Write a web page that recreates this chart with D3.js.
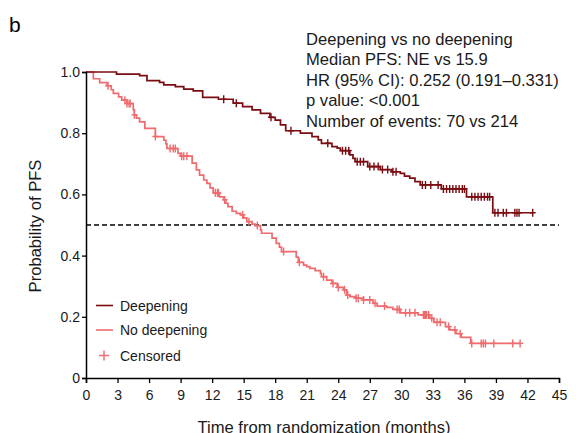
<!DOCTYPE html>
<html>
<head>
<meta charset="utf-8">
<script src="https://cdn.jsdelivr.net/npm/d3@7"></script>
<style>
  body { margin: 0; background: #fff; }
  svg { font-family: Arial, "Liberation Sans", sans-serif; }
</style>
</head>
<body>
<div id="chart-container"></div>
<script>
// Deepening group: event times (months) and survival after each drop
const deepTimes = [0, 2.9, 5.1, 5.8, 7.0, 7.4, 8.5, 9.3, 10.2, 11.1, 12.6, 14.0, 14.9, 15.8, 16.6, 17.5, 18.0, 18.5, 19.0,
  20.4, 21.5, 22.1, 22.4, 23.4, 23.9, 24.2, 25.1, 25.4, 25.6, 26.8, 28.0, 29.1, 29.9, 30.3, 30.8, 31.3, 31.8, 33.8, 36.2, 38.7];
const deepSurv = [1.0, 0.993, 0.988, 0.972, 0.966, 0.958, 0.952, 0.944, 0.938, 0.917, 0.911, 0.898, 0.887, 0.876, 0.865, 0.852, 0.843, 0.827, 0.808,
  0.800, 0.789, 0.778, 0.767, 0.756, 0.751, 0.743, 0.729, 0.718, 0.707, 0.691, 0.681, 0.674, 0.669, 0.660, 0.653, 0.642, 0.631, 0.618, 0.592, 0.540];
const deepCensor = [13.1, 14.3, 17.6, 19.5, 23.0, 24.4, 24.7, 25.0, 25.8, 26.1, 26.4, 27.0, 27.4, 27.8, 28.2, 28.7, 29.2, 29.5,
  32.0, 32.3, 32.8, 33.5, 34.0, 34.3, 34.6, 34.9, 35.2, 35.5, 35.8, 36.0, 36.7, 37.0, 37.3, 37.6, 37.9, 38.2, 38.4,
  38.9, 39.2, 39.7, 40.0, 40.8, 41.0, 41.2, 42.5];

// No deepening group
const noDeepTimes = [0, 0.7, 1.3, 2.0, 2.4, 2.6, 3.1, 3.4, 3.9, 4.5, 4.6, 4.8, 5.1, 5.6, 6.6, 7.4, 7.6, 7.7, 8.75, 9.0,
  10.1, 10.5, 10.8, 11.2, 11.5, 11.8, 12.1, 12.7, 13.1, 13.3, 13.5, 13.9, 14.3, 14.7, 15.0, 15.3, 15.8, 16.1, 16.6, 16.7,
  17.7, 18.1, 18.4, 18.6, 20.0, 20.2, 20.7, 21.0, 21.3, 21.8, 22.3, 22.4, 22.9, 23.4, 23.9, 24.5, 24.8, 25.1, 25.6, 26.4,
  27.3, 27.7, 28.6, 29.2, 29.9, 31.6, 32.7, 33.1, 34.2, 34.6, 35.2, 35.7, 36.6];
const noDeepSurv = [1.0, 0.978, 0.965, 0.955, 0.942, 0.930, 0.919, 0.908, 0.897, 0.876, 0.860, 0.849, 0.837, 0.816, 0.789, 0.777, 0.765, 0.750, 0.734, 0.725,
  0.702, 0.680, 0.663, 0.647, 0.636, 0.621, 0.605, 0.592, 0.582, 0.571, 0.560, 0.545, 0.538, 0.533, 0.523, 0.511, 0.503, 0.498, 0.484, 0.473,
  0.457, 0.440, 0.428, 0.413, 0.395, 0.378, 0.369, 0.364, 0.358, 0.351, 0.342, 0.331, 0.320, 0.309, 0.296, 0.288, 0.271, 0.266, 0.261, 0.255,
  0.244, 0.235, 0.231, 0.224, 0.213, 0.206, 0.195, 0.182, 0.168, 0.157, 0.145, 0.133, 0.113];
const noDeepCensor = [2.1, 3.7, 3.9, 4.1, 4.2, 4.6, 6.6, 8.0, 8.3, 8.5, 9.1, 9.3, 9.6, 12.3, 12.5, 12.6, 13.2, 14.9, 15.5, 16.3,
  18.8, 20.3, 22.6, 23.5, 24.0, 24.6, 24.9, 25.7, 25.9, 26.4, 27.0, 27.5, 28.4, 29.6, 29.8, 30.4, 30.8, 31.3,
  32.1, 32.2, 32.3, 32.4, 32.6, 32.9, 33.4, 33.7, 34.5, 35.1, 35.6, 36.7, 37.6, 37.8, 38.0, 38.8, 40.6, 41.3];

// Axis ticks and annotation text
const xTicks = [0, 3, 6, 9, 12, 15, 18, 21, 24, 27, 30, 33, 36, 39, 42, 45];
const yTicks = [0, 0.2, 0.4, 0.6, 0.8, 1.0];
const annotationLines = [
  'Deepening vs no deepening',
  'Median PFS: NE vs 15.9',
  'HR (95% CI): 0.252 (0.191\u20130.331)',
  'p value: <0.001',
  'Number of events: 70 vs 214'
];
const legendItems = ['Deepening', 'No deepening', 'Censored'];

const colorDeep = '#7a0c12';
const colorNoDeep = '#ef6b6e';

const width = 576;
const height = 433;

const svg = d3.select('#chart-container')
  .append('svg')
    .attr('width', width)
    .attr('height', height);

// Scales
const x = d3.scaleLinear().domain([0, 45]).range([86, 559]);
const y = d3.scaleLinear().domain([0, 1]).range([378, 72]);

// Survival value at time t (step function)
function survAt(times, surv, t) {
  let s = surv[0];
  for (let i = 0; i < times.length; i++) {
    if (times[i] <= t) s = surv[i];
  }
  return s;
}

// Build KM step path data
function stepData(times, surv, endTime) {
  const pts = times.map((t, i) => ({ t: t, s: surv[i] }));
  pts.push({ t: endTime, s: surv[surv.length - 1] });
  return pts;
}

const line = d3.line()
  .x(d => x(d.t))
  .y(d => y(d.s))
  .curve(d3.curveStepAfter);

// Median reference line
svg.append('line')
  .attr('x1', x(0)).attr('x2', x(45))
  .attr('y1', y(0.5)).attr('y2', y(0.5))
  .attr('stroke', '#000')
  .attr('stroke-width', 1.5)
  .attr('stroke-dasharray', '5,3');

// Curves + censor marks
function drawGroup(times, surv, censor, color) {
  const endTime = censor[censor.length - 1];
  svg.append('path')
    .datum(stepData(times, surv, endTime))
    .attr('d', line)
    .attr('fill', 'none')
    .attr('stroke', color)
    .attr('stroke-width', 1.7);

  svg.append('g')
    .selectAll('path')
    .data(censor)
    .enter()
    .append('path')
      .attr('d', d => {
        const cx = x(d), cy = y(survAt(times, surv, d));
        return `M${cx},${cy - 4}V${cy + 4}M${cx - 3},${cy}H${cx + 3}`;
      })
      .attr('stroke', color)
      .attr('stroke-width', 1.4)
      .attr('fill', 'none');
}

drawGroup(noDeepTimes, noDeepSurv, noDeepCensor, colorNoDeep);
drawGroup(deepTimes, deepSurv, deepCensor, colorDeep);

// X axis
const xAxis = svg.append('g')
  .attr('transform', `translate(0,${y(0)})`)
  .call(d3.axisBottom(x).tickValues(xTicks).tickSize(5).tickPadding(7).tickFormat(d3.format('d')));

// Y axis
const yAxis = svg.append('g')
  .attr('transform', `translate(${x(0)},0)`)
  .call(d3.axisLeft(y).tickValues(yTicks).tickSize(4).tickPadding(2)
    .tickFormat(d => d === 0 ? '0' : d3.format('.1f')(d)));

[xAxis, yAxis].forEach(ax => {
  ax.select('.domain').attr('stroke', '#000').attr('stroke-width', 1.5);
  ax.selectAll('.tick line').attr('stroke', '#000').attr('stroke-width', 1.3);
  ax.selectAll('.tick text').attr('fill', '#1a1a1a').style('font-size', '14px')
    .style('font-family', 'Arial, "Liberation Sans", sans-serif');
});

// Axis titles
svg.append('text')
  .attr('x', 324).attr('y', 432.5)
  .attr('text-anchor', 'middle')
  .style('font-size', '16.6px')
  .attr('fill', '#1a1a1a')
  .text('Time from randomization (months)');

svg.append('text')
  .attr('transform', 'translate(41,226) rotate(-90)')
  .attr('text-anchor', 'middle')
  .style('font-size', '16.6px')
  .attr('fill', '#1a1a1a')
  .text('Probability of PFS');

// Panel letter
svg.append('text')
  .attr('x', 9).attr('y', 32)
  .style('font-size', '21px')
  .attr('fill', '#000')
  .text('b');

// Annotation block
svg.append('g')
  .selectAll('text')
  .data(annotationLines)
  .enter()
  .append('text')
    .attr('x', 306)
    .attr('y', (d, i) => 45 + i * 20.4)
    .style('font-size', '16.6px')
    .attr('fill', '#1a1a1a')
    .text(d => d);

// Legend
const legend = svg.append('g');
const legendY = [305.5, 330, 355.5];
legendItems.forEach((label, i) => {
  const ly = legendY[i];
  if (i < 2) {
    legend.append('line')
      .attr('x1', 96).attr('x2', 113)
      .attr('y1', ly).attr('y2', ly)
      .attr('stroke', i === 0 ? colorDeep : colorNoDeep)
      .attr('stroke-width', 1.6);
  } else {
    legend.append('path')
      .attr('d', `M104,${ly - 5}V${ly + 5}M99,${ly}H109`)
      .attr('stroke', colorNoDeep)
      .attr('stroke-width', 1.4);
  }
  legend.append('text')
    .attr('x', 120).attr('y', ly + 5)
    .style('font-size', '14px')
    .attr('fill', '#1a1a1a')
    .text(label);
});
</script>
</body>
</html>
